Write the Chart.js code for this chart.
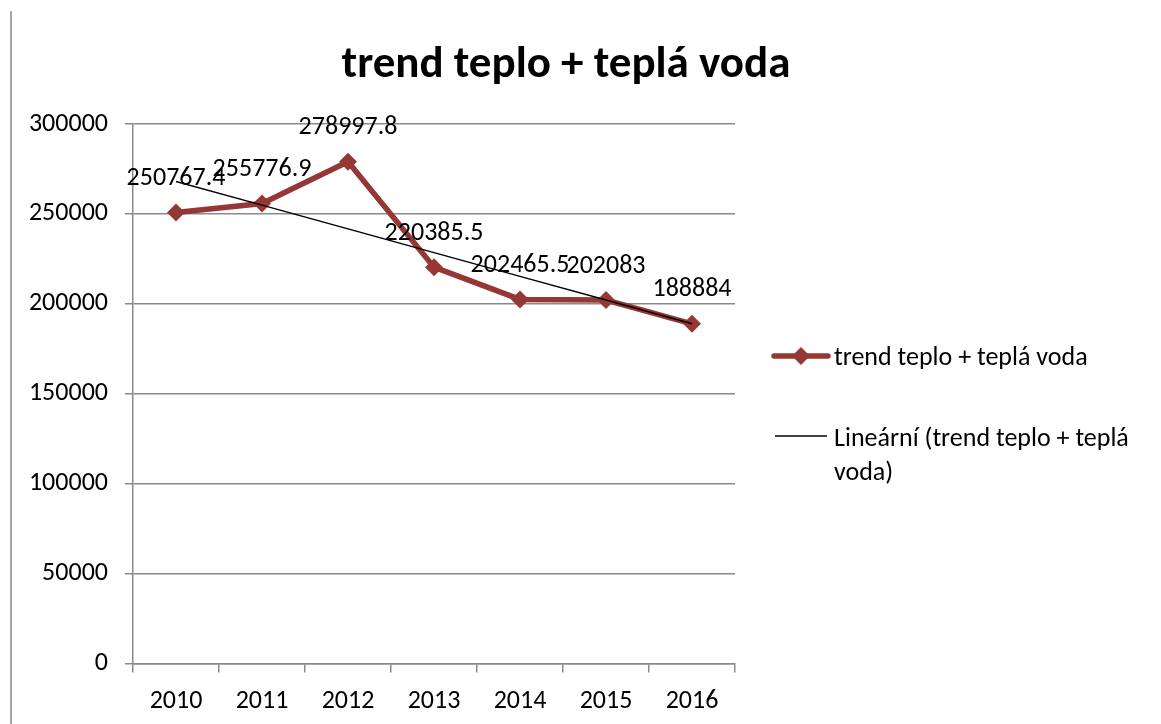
<!DOCTYPE html>
<html>
<head>
<meta charset="utf-8">
<script src="https://cdn.jsdelivr.net/npm/chart.js@4"></script>
<style>
html,body{margin:0;padding:0;background:#fff;}
#wrap{position:relative;width:1161px;height:724px;}
</style>
</head>
<body>
<div id="wrap"><canvas id="c" width="1161" height="724"></canvas></div>
<script>
const titleText = 'trend teplo + teplá voda';
const categories = ['2010','2011','2012','2013','2014','2015','2016'];
const seriesName = 'trend teplo + teplá voda';
const seriesValues = [250767.4, 255776.9, 278997.8, 220385.5, 202465.5, 202083, 188884];
const trendName = ['Lineární (trend teplo + teplá', 'voda)'];
const trendValues = [268076.8, 254877.9, 241678.9, 228480.0, 215281.1, 202082.2, 188883.2];
const yTicks = [0, 50000, 100000, 150000, 200000, 250000, 300000];

const FONT = 'Carlito, Lato, "Open Sans", sans-serif';
const RED = '#953735';
const GRID = '#8a8a8a';

const extras = {
  id: 'extras',
  afterDraw(chart) {
    const ctx = chart.ctx;
    ctx.save();
    // left border line
    ctx.strokeStyle = GRID;
    ctx.lineWidth = 1.5;
    ctx.beginPath();
    ctx.moveTo(11, 11);
    ctx.lineTo(11, 724);
    ctx.stroke();
    // title
    ctx.fillStyle = '#000';
    ctx.font = 'bold 45px ' + FONT;
    ctx.textAlign = 'center';
    ctx.textBaseline = 'middle';
    ctx.fillText(titleText, 566, 66);
    // data labels
    const meta = chart.getDatasetMeta(0);
    ctx.font = '26px ' + FONT;
    ctx.textAlign = 'center';
    ctx.textBaseline = 'middle';
    meta.data.forEach((pt, i) => {
      ctx.fillText(String(seriesValues[i]), pt.x, pt.y - 34);
    });
    // legend
    ctx.font = '26px ' + FONT;
    ctx.textAlign = 'left';
    ctx.textBaseline = 'middle';
    ctx.strokeStyle = RED;
    ctx.lineWidth = 5.5;
    ctx.lineCap = 'round';
    ctx.beginPath();
    ctx.moveTo(774, 356);
    ctx.lineTo(828, 356);
    ctx.stroke();
    ctx.fillStyle = RED;
    ctx.beginPath();
    ctx.moveTo(801, 347); ctx.lineTo(810, 356); ctx.lineTo(801, 365); ctx.lineTo(792, 356);
    ctx.closePath(); ctx.fill();
    ctx.fillStyle = '#000';
    ctx.fillText(seriesName, 834, 358);
    ctx.strokeStyle = '#000';
    ctx.lineWidth = 1.5;
    ctx.lineCap = 'butt';
    ctx.beginPath();
    ctx.moveTo(775, 436);
    ctx.lineTo(827, 436);
    ctx.stroke();
    ctx.fillText(trendName[0], 834, 439);
    ctx.fillText(trendName[1], 834, 473);
    ctx.restore();
  }
};

new Chart(document.getElementById('c'), {
  type: 'line',
  data: {
    labels: categories,
    datasets: [
      {
        label: seriesName,
        data: seriesValues,
        borderColor: RED,
        backgroundColor: RED,
        borderWidth: 5.5,
        pointStyle: 'rectRot',
        pointRadius: 9,
        pointBorderWidth: 0,
        pointBackgroundColor: RED,
        tension: 0,
        order: 2
      },
      {
        label: trendName.join(' '),
        data: trendValues,
        borderColor: '#000',
        borderWidth: 1.5,
        pointRadius: 0,
        tension: 0,
        order: 1
      }
    ]
  },
  options: {
    responsive: false,
    animation: false,
    layout: { padding: { left: 10, right: 426, top: 124, bottom: 0 } },
    plugins: { legend: { display: false }, title: { display: false }, tooltip: { enabled: false } },
    scales: {
      x: {
        offset: true,
        grid: { offset: true, drawOnChartArea: false, color: GRID, lineWidth: 1.5, tickLength: 9, tickColor: GRID },
        border: { display: true, color: GRID, width: 1.5 },
        ticks: { color: '#000', font: { family: FONT, size: 26 }, padding: 13, maxRotation: 0 },
        afterFit(s) { s.height = 724 - 663.5; }
      },
      y: {
        min: 0, max: 300000,
        afterBuildTicks(s) { s.ticks = yTicks.map(v => ({ value: v })); },
        grid: { color: GRID, lineWidth: 1.5, tickLength: 8, tickColor: GRID },
        border: { display: true, color: GRID, width: 1.5 },
        ticks: { color: '#000', font: { family: FONT, size: 26 }, padding: 17, callback: v => String(v) },
        afterFit(s) { s.width = 123; }
      }
    }
  },
  plugins: [extras]
});
</script>
</body>
</html>
